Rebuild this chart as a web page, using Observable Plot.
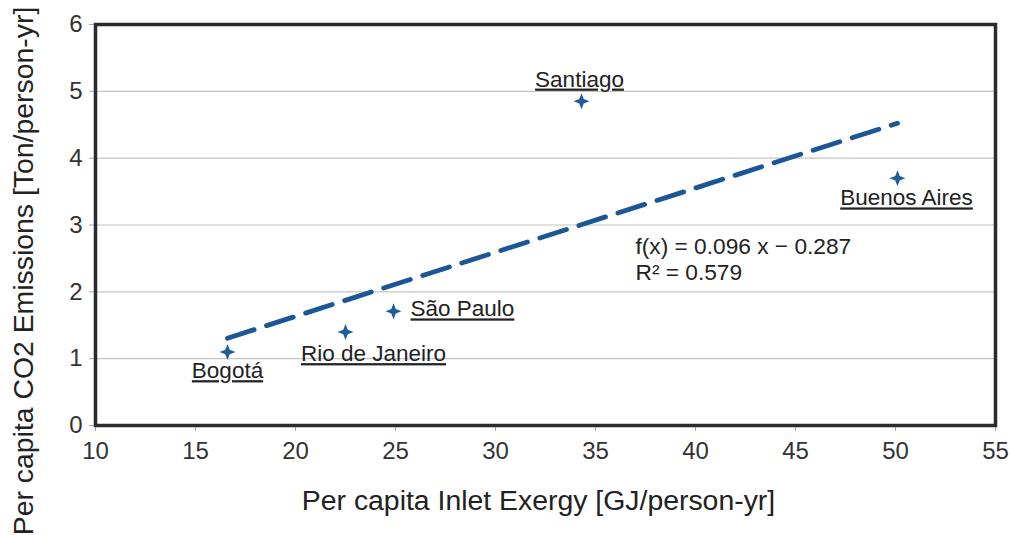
<!DOCTYPE html>
<html><head><meta charset="utf-8">
<script src="https://cdn.jsdelivr.net/npm/d3@7"></script>
<script src="https://cdn.jsdelivr.net/npm/@observablehq/plot@0.6"></script>
<style>
body{margin:0;background:#fff;}
#chart svg{font-family:"Liberation Sans",Arial,sans-serif;}
</style>
</head><body><div id="chart"></div>
<script>
// Data
const cities = ["Bogotá", "Rio de Janeiro", "São Paulo", "Santiago", "Buenos Aires"];
const exergy = [16.6, 22.5, 24.9, 34.3, 50.1];
const emissions = [1.1, 1.4, 1.71, 4.85, 3.7];
const xTicks = [10, 15, 20, 25, 30, 35, 40, 45, 50, 55];
const yTicks = [0, 1, 2, 3, 4, 5, 6];
const slope = 0.096, intercept = -0.287, rSquared = 0.579;
const xTitle = "Per capita Inlet Exergy [GJ/person-yr]";
const yTitle = "Per capita CO2 Emissions [Ton/person-yr]";

// Label placement (style)
const placement = {
  "Bogotá": {dx: 0, dy: 19, anchor: "middle"},
  "Rio de Janeiro": {dx: 28, dy: 22, anchor: "middle"},
  "São Paulo": {dx: 17, dy: -2, anchor: "start"},
  "Santiago": {dx: -2, dy: -22, anchor: "middle"},
  "Buenos Aires": {dx: 9, dy: 20, anchor: "middle"}
};

const points = cities.map((c, i) => ({city: c, x: exergy[i], y: emissions[i]}));
const xMin = d3.min(exergy), xMax = d3.max(exergy);
const trend = [xMin, xMax].map(x => ({x, y: slope * x + intercept}));

const star = {
  draw(ctx, size) {
    const r = Math.sqrt(size / Math.PI);
    const w = r * 0.28;
    ctx.moveTo(0, -r); ctx.lineTo(w, -w); ctx.lineTo(r, 0); ctx.lineTo(w, w);
    ctx.lineTo(0, r); ctx.lineTo(-w, w); ctx.lineTo(-r, 0); ctx.lineTo(-w, -w);
    ctx.closePath();
  }
};

const fmt = d3.format(".3f");
const eqText = `f(x) = ${fmt(slope)} x − ${fmt(-intercept)}\nR² = ${fmt(rSquared)}`;

const labelMarks = cities.map(c => Plot.text(points.filter(d => d.city === c), {
  x: "x", y: "y", text: "city", dx: placement[c].dx, dy: placement[c].dy,
  textAnchor: placement[c].anchor, fontSize: 22.5, fill: "#222"
}));

const plot = Plot.plot({
  width: 1012, height: 535,
  marginLeft: 95, marginRight: 17, marginTop: 24, marginBottom: 110,
  x: {domain: [10, 55]},
  y: {domain: [0, 6]},
  style: {fontFamily: "Liberation Sans, Arial, sans-serif", background: "#fff", fontSize: "24px"},
  marks: [
    Plot.gridY(yTicks.slice(1, -1), {stroke: "#c4c4c4", strokeOpacity: 1, strokeWidth: 1.2}),
    Plot.axisX({ticks: xTicks, tickSize: 6, tickPadding: 10, stroke: "#aaa", tickFormat: d3.format("d"),
      fontSize: 24, fill: "#333", label: null}),
    Plot.axisY({ticks: yTicks, tickSize: 6, tickPadding: 7, stroke: "#aaa", tickFormat: d3.format("d"),
      fontSize: 24, fill: "#333", label: null}),
    Plot.text([xTitle], {frameAnchor: "bottom", text: d => d, dx: -7, dy: 75, lineAnchor: "middle",
      textAnchor: "middle", fontSize: 28.4, fill: "#222"}),
    Plot.text([yTitle], {frameAnchor: "left", text: d => d, dx: -72, dy: 46, rotate: -90,
      lineAnchor: "middle", textAnchor: "middle", fontSize: 28.4, fill: "#222"}),
    Plot.frame({stroke: "#2b2b2b", strokeWidth: 3.5}),
    Plot.line(trend, {x: "x", y: "y", stroke: "#1b5697", strokeWidth: 4.8, strokeDasharray: "28,13"}),
    Plot.dot(points, {x: "x", y: "y", symbol: star, r: 8, fill: "#1f5c9c", stroke: "none"}),
    ...labelMarks,
    Plot.text([eqText], {frameAnchor: "top-left", dx: 540, dy: 234, text: d => d,
      textAnchor: "start", lineAnchor: "middle", lineHeight: 1.15, fontSize: 22.7, fill: "#222"})
  ]
});
const svg = d3.select(plot);
svg.selectAll("text").each(function() {
  const t = this.textContent;
  const sel = d3.select(this);
  if (cities.includes(t)) sel.style("text-decoration", "underline").attr("text-decoration", "underline");
  else if (/^\d+$/.test(t)) sel.style("font-size", "24px").style("fill", "#333");
});
document.getElementById("chart").appendChild(plot);
</script>
</body></html>
